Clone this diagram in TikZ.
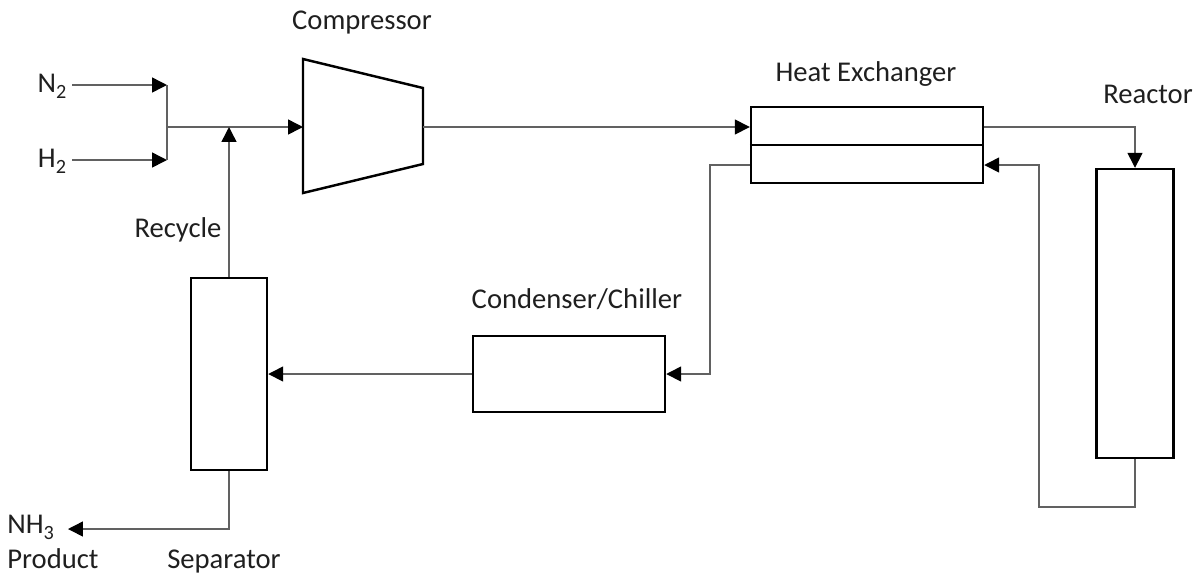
\documentclass[tikz,border=0pt]{standalone}
\usepackage{fontspec}
\setmainfont{Carlito}
\usetikzlibrary{arrows.meta}
\newcommand{\lowsub}[1]{\raisebox{-0.45ex}{\fontsize{11.5}{13}\selectfont #1}}
\begin{document}
\begin{tikzpicture}[x=0.02cm,y=-0.02cm,
  font=\fontsize{16.3}{19}\selectfont,
  line/.style={draw=black!62, line width=0.85pt},
  flow/.style={line, -{Triangle[length=8.5pt,width=8.5pt,color=black]}},
  unit/.style={draw=black, line width=1.4pt, inner sep=0pt, fill=white},
  lbl/.style={anchor=base, inner sep=0pt, text=black!88}]
\useasboundingbox (0,0) rectangle (1199,576);

% units
\node[unit, minimum width=1.52cm, minimum height=3.84cm] (sep) at (229,374) {};
\node[unit, minimum width=3.84cm, minimum height=1.52cm] (cond) at (569,374) {};
\node[unit, minimum width=4.64cm, minimum height=1.52cm] (hx) at (867,145) {};
\draw[black, line width=1.4pt] (hx.west) -- (hx.east);
\node[unit, minimum width=1.54cm, minimum height=5.78cm] (reac) at (1135,313.5) {};
\coordinate (cin) at (303,127);
\coordinate (cout) at (423,127);
\draw[black, line width=1.4pt, line join=miter] (303,59) -- (423,88) -- (423,164) -- (303,193) -- cycle;

% labels
\node[lbl] (n2) at (52,92) {N\lowsub{2}};
\node[lbl] (h2) at (52,167) {H\lowsub{2}};
\node[lbl] (lcomp) at (362,29) {Compressor};
\node[lbl] (lhx) at (866,81) {Heat Exchanger};
\node[lbl] (lreac) at (1148,103) {Reactor};
\node[lbl] (lcond) at (577,308) {Condenser/Chiller};
\node[lbl] (lrec) at (178,237) {Recycle};
\node[lbl] (lsep) at (224,568) {Separator};
\node[lbl, anchor=base west] (nh3) at (7,533) {NH\lowsub{3}};
\node[lbl, anchor=base west] (lprod) at (7,568) {Product};

% feed mixing
\coordinate (mixN) at (167,85);
\coordinate (mixH) at (167,160);
\coordinate (mix) at (167,127);
\coordinate (rj) at (229,127);
\draw[flow] (72,85) -- (mixN);
\draw[flow] (72,160) -- (mixH);
\draw[line] (mixN) -- (mixH);
\draw[flow] (mix) -- (cin);
\draw[flow] (sep.north) -- (rj);

% compressor to heat exchanger
\draw[flow] (cout) -- (hx.west |- cout);

% heat exchanger to reactor
\draw[flow] (hx.east |- cout) -| (reac.north);

% reactor return to heat exchanger
\coordinate (rb) at (1135,507);
\coordinate (rl) at (1039,507);
\draw[flow] (reac.south) -- (rb) -- (rl) -- (1039,165) -- (hx.east |- 0,165);

% heat exchanger to condenser
\draw[flow] (hx.west |- 0,165) -- (710,165) -- (710,374) -- (cond.east);

% condenser to separator
\draw[flow] (cond.west) -- (sep.east);

% product
\coordinate (pb) at (229,529);
\draw[flow] (sep.south) -- (pb) -- (68,529);
\end{tikzpicture}
\end{document}
